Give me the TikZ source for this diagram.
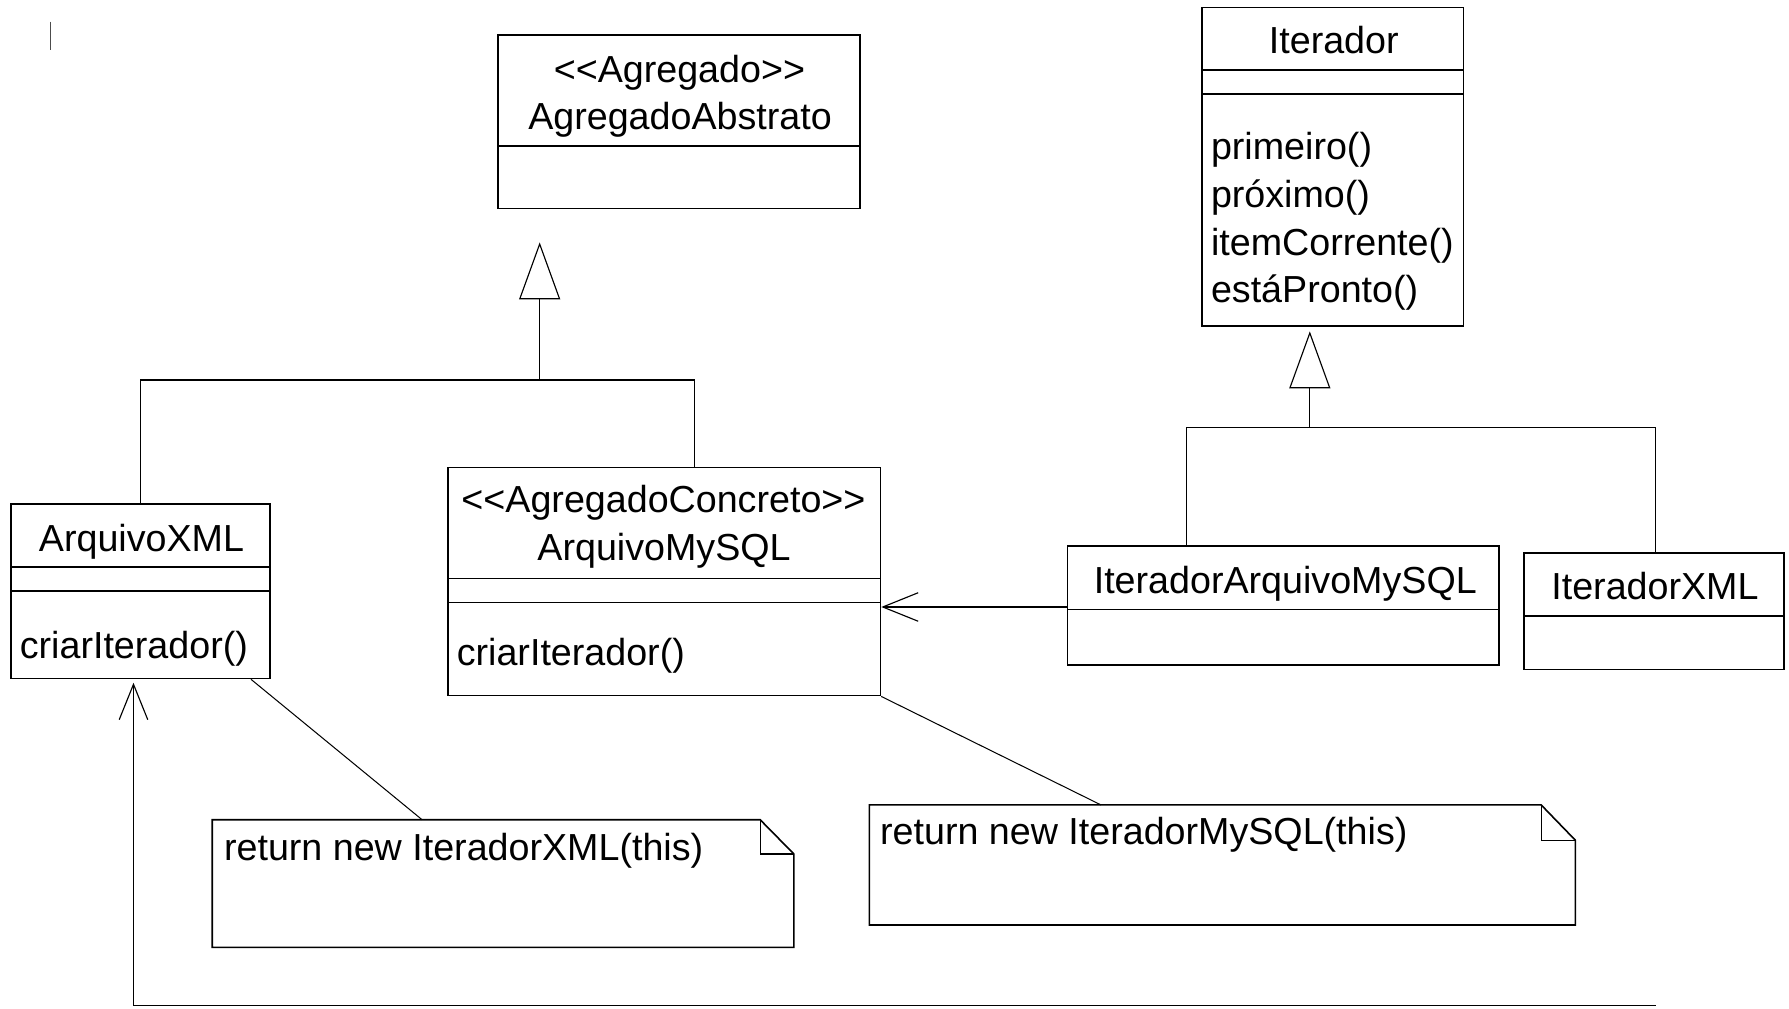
\documentclass[tikz,border=0pt]{standalone}
\usepackage{fontspec}
\newfontfamily\umlfont{Liberation Sans}
\usetikzlibrary{arrows.meta,calc}
\tikzset{
  cls/.style={draw, line width=0.7pt, rectangle, inner sep=0pt, anchor=north west},
  notearea/.style={rectangle, inner sep=0pt, anchor=north west},
  lbl/.style={inner sep=0pt, font=\umlfont\fontsize{16.5pt}{21pt}\selectfont},
  thinln/.style={line width=0.45pt},
  divider/.style={line width=0.6pt},
  gen/.style={line width=0.5pt, -{Triangle[open,length=25pt,width=18pt]}},
  dep/.style={line width=0.5pt, -{Straight Barb[length=15.5pt,width=12.5pt]}}
}
\begin{document}
\begin{tikzpicture}[x=0.5pt,y=-0.5pt]
\useasboundingbox (0,0) rectangle (1568,884);
% helper coordinates
\coordinate (c609) at (609,0);
\coordinate (c1040) at (1040,0);
\coordinate (c1451) at (1451,0);
\coordinate (c532) at (0,532);
\coordinate (c220) at (220,0);
\coordinate (c370) at (370,0);
\coordinate (c965) at (965,0);
\coordinate (j1) at (473,333);
\coordinate (j2) at (1148,375);
\coordinate (bend) at (117,881);
\coordinate (tail) at (1451,881);

% stray mark
\draw[black!70, line width=0.5pt] (44.5,19) -- (44.5,44);

% classes
\node[cls, minimum width=158.5pt, minimum height=76pt] (agg) at (436,30) {};
\node[cls, minimum width=114.5pt, minimum height=139.5pt] (it) at (1053,6) {};
\node[cls, minimum width=113.5pt, minimum height=76.5pt] (axml) at (9,441) {};
\node[cls, minimum width=189.5pt, minimum height=100pt] (amy) at (392,409) {};
\node[cls, minimum width=189pt, minimum height=52pt] (iam) at (935,478) {};
\node[cls, minimum width=114pt, minimum height=51pt] (ixml) at (1335,484) {};

% dividers
\draw[divider] (agg.west |- 0,128) -- (agg.east |- 0,128);
\draw[divider] (it.west |- 0,61.5) -- (it.east |- 0,61.5);
\draw[divider] (it.west |- 0,82.5) -- (it.east |- 0,82.5);
\draw[divider] (axml.west |- 0,497) -- (axml.east |- 0,497);
\draw[divider] (axml.west |- 0,518) -- (axml.east |- 0,518);
\draw[divider] (amy.west |- 0,507) -- (amy.east |- 0,507);
\draw[divider] (amy.west |- 0,528) -- (amy.east |- 0,528);
\draw[divider] (iam.west |- 0,534) -- (iam.east |- 0,534);
\draw[divider] (ixml.west |- 0,540) -- (ixml.east |- 0,540);

% class texts
\node[lbl, anchor=base] (t1) at (595.5,72.5) {<\kern0pt<Agregado>\kern0pt>};
\node[lbl, anchor=base] (t2) at (596,113.5) {AgregadoAbstrato};
\node[lbl, anchor=base] (t3) at (1169,47) {Iterador};
\node[lbl, anchor=base west] (m1) at (1061,139.7) {primeiro()};
\node[lbl, anchor=base west] (m2) at (1061,181.5) {próximo()};
\node[lbl, anchor=base west] (m3) at (1061,223.5) {itemCorrente()};
\node[lbl, anchor=base west] (m4) at (1061,265.5) {estáPronto()};
\node[lbl, anchor=base] (t4) at (124,483) {ArquivoXML};
\node[lbl, anchor=base west] (m5) at (17,577) {criarIterador()};
\node[lbl, anchor=base] (t5) at (581.5,449) {<\kern0pt<AgregadoConcreto>\kern0pt>};
\node[lbl, anchor=base] (t6) at (582,491) {ArquivoMySQL};
\node[lbl, anchor=base west] (m6) at (400,583) {criarIterador()};
\node[lbl, anchor=base] (t7) at (1126.5,520) {IteradorArquivoMySQL};
\node[lbl, anchor=base] (t8) at (1450.5,525) {IteradorXML};

% notes
\node[notearea, minimum width=254.5pt, minimum height=55.5pt] (n1) at (186,718.5) {};
\draw[line width=0.7pt] (n1.north west) -- ($(n1.north east)+(-29.5,0)$) -- ($(n1.north east)+(0,30)$) -- (n1.south east) -- (n1.south west) -- cycle;
\draw[line width=0.6pt] ($(n1.north east)+(-29.5,0)$) -- ($(n1.north east)+(-29.5,30)$) -- ($(n1.north east)+(0,30)$);
\node[lbl, anchor=base west] (nt1) at (196,754) {return new IteradorXML(this)};

\node[notearea, minimum width=309pt, minimum height=52.2pt] (n2) at (762,705.5) {};
\draw[line width=0.7pt] (n2.north west) -- ($(n2.north east)+(-30,0)$) -- ($(n2.north east)+(0,31)$) -- (n2.south east) -- (n2.south west) -- cycle;
\draw[line width=0.6pt] ($(n2.north east)+(-30,0)$) -- ($(n2.north east)+(-30,31)$) -- ($(n2.north east)+(0,31)$);
\node[lbl, anchor=base west] (nt2) at (771,740.5) {return new IteradorMySQL(this)};

% note anchors
\draw[thinln] (axml.south -| c220) -- (n1.north -| c370);
\draw[thinln] (amy.south east) -- (n2.north -| c965);

% generalizations
\draw[line width=0.5pt] (axml.north) |- (j1) -| (amy.north -| c609);
\draw[gen, shorten >=14.5pt] (j1) -- (agg.south -| j1);
\draw[line width=0.5pt] (iam.north -| c1040) |- (j2) -| (ixml.north -| c1451);
\draw[gen, shorten >=2pt] (j2) -- (it.south -| j2);

% associations
\draw[dep] (iam.west |- c532) -- (amy.east |- c532);
\draw[dep, shorten >=1.5pt] (tail) -- (bend) -- (axml.south -| bend);
\end{tikzpicture}
\end{document}
